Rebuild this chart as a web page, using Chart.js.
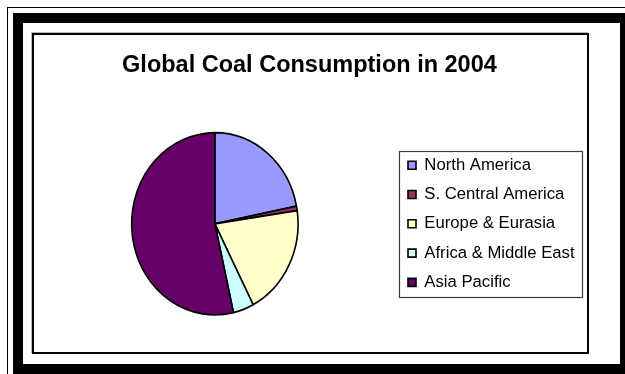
<!DOCTYPE html>
<html>
<head>
<meta charset="utf-8">
<script src="https://cdn.jsdelivr.net/npm/chart.js@4.4.1/dist/chart.umd.min.js"></script>
<style>
  html, body { margin: 0; padding: 0; background: #fff; }
  #page { position: relative; width: 625px; height: 374px; overflow: hidden; }
  .frame { position: absolute; box-sizing: border-box; border-style: solid; border-color: #000; }
  #thin  { left: 7px;  top: 7px;  width: 618px; height: 367px; border-width: 1px 0 0 1px; }
  #thick { left: 13px; top: 13px; width: 612px; height: 361px; border-width: 10px 5px 10px 10px; }
  #inner { left: 32px; top: 33px; width: 557px; height: 321px; border-width: 2px; box-shadow: -1px -1px 0 #b8b8b8; }
  #chart { position: absolute; left: 0; top: 0; }
</style>
</head>
<body>
<div id="page">
<div class="frame" id="thin"></div>
<div class="frame" id="thick"></div>
<div class="frame" id="inner"></div>
<canvas id="chart" width="625" height="374"></canvas>
</div>
<script>
// ---- data ----
const titleText  = 'Global Coal Consumption in 2004';
const categories = ['North America', 'S. Central America', 'Europe & Eurasia', 'Africa & Middle East', 'Asia Pacific'];
const shares     = [21.9, 0.8, 19.7, 4.0, 53.6];   // % of world coal consumption
const colors     = ['#9999FF', '#993366', '#FFFFCC', '#CCFFFF', '#660066'];

// ---- layout helpers ----
const FAMILY = '"Liberation Sans", Arial, sans-serif';
const LEG_FONT = 16.7, LEG_PAD = 12.6, BOX = 8;
const ITEM_X = 408;            // left of legend swatches
const legendLeft = ITEM_X - LEG_PAD;
const m = document.createElement('canvas').getContext('2d');
m.font = LEG_FONT + 'px ' + FAMILY;
const maxText = Math.max(...categories.map(c => m.measureText(c).width));
const legendW = LEG_PAD + BOX + LEG_FONT / 2 + maxText + 10;
const padR = 625 - legendLeft - legendW;
const padL = (213.3 + 311) - legendLeft - legendW / 2;   // balance pie centre / title centre

const ellipsePlugin = {
  id: 'ellipse',
  beforeDatasetsDraw(chart, args, opts) {
    const a = chart.getDatasetMeta(0).data[0];
    const ctx = chart.ctx;
    ctx.save();
    ctx.translate(a.x, a.y);
    ctx.scale(1, opts.scaleY);
    ctx.translate(-a.x, -a.y);
  },
  afterDatasetsDraw(chart) { chart.ctx.restore(); }
};

const legendFrame = {
  id: 'legendFrame',
  afterDraw(chart) {
    const hb = chart.legend && chart.legend.legendHitBoxes;
    if (!hb || !hb.length) return;
    const ctx = chart.ctx;
    const l = Math.min(...hb.map(h => h.left)) - 9;
    const t = Math.min(...hb.map(h => h.top)) - 6;
    const r = Math.max(...hb.map(h => h.left + h.width)) + 7;
    const b = Math.max(...hb.map(h => h.top + h.height)) + 6;
    ctx.save();
    ctx.strokeStyle = '#3c3c3c';
    ctx.lineWidth = 1.2;
    ctx.strokeRect(Math.round(l) + 0.5, Math.round(t) + 0.5, Math.round(r - l), Math.round(b - t));
    ctx.restore();
  }
};

Chart.defaults.font.family = FAMILY;
Chart.defaults.color = '#000';

new Chart(document.getElementById('chart'), {
  type: 'pie',
  data: {
    labels: categories,
    datasets: [{
      data: shares,
      backgroundColor: colors,
      borderColor: '#000',
      borderWidth: 1.6
    }]
  },
  options: {
    responsive: false,
    animation: false,
    events: [],
    radius: 83.2,
    layout: { padding: { left: padL, right: padR, top: 35, bottom: 16.1 } },
    plugins: {
      ellipse: { scaleY: 1.095 },
      tooltip: { enabled: false },
      title: {
        display: true,
        text: titleText,
        color: '#000',
        font: { size: 23.5, weight: 'bold', family: FAMILY },
        padding: { top: 16.5, bottom: 10 }
      },
      legend: {
        position: 'right',
        fullSize: false,
        align: 'center',
        labels: {
          boxWidth: BOX,
          boxHeight: BOX,
          padding: LEG_PAD,
          color: '#000',
          font: { size: LEG_FONT, family: FAMILY }
        }
      }
    }
  },
  plugins: [ellipsePlugin, legendFrame]
});
</script>
</body>
</html>
